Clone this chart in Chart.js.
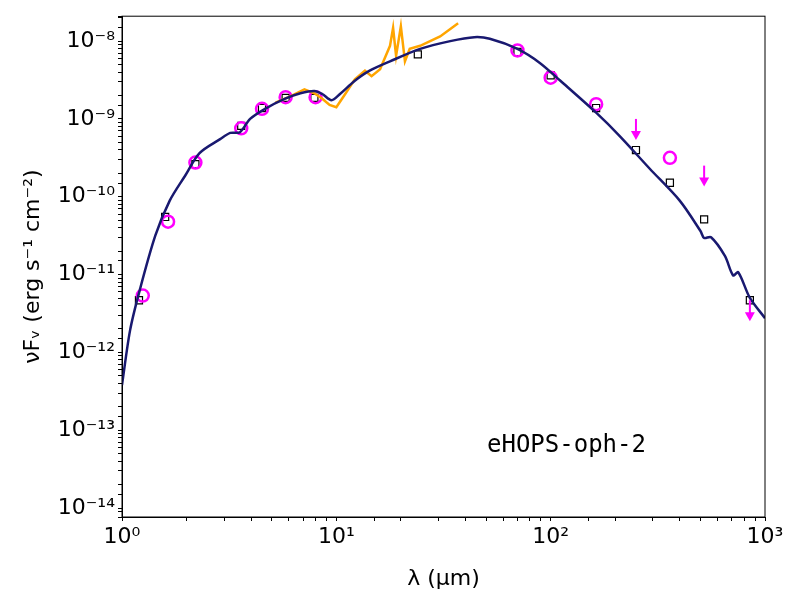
<!DOCTYPE html>
<html><head><meta charset="utf-8">
<script src="https://cdn.jsdelivr.net/npm/chart.js@4/dist/chart.umd.min.js"></script>
<style>body{margin:0;background:#fff}</style>
</head><body><canvas id="sed" width="800" height="600"></canvas>
<script>
// photometry (lambda um, log10 nuFnu)
const sqLam = [1.2,1.59,2.2,3.6,4.5,5.8,7.9,24,70,100,163,250,360,520,850];
const sqLog = [-11.33,-10.26,-9.58,-9.09,-8.86,-8.73,-8.73,-8.17,-8.14,-8.44,-8.86,-9.40,-9.82,-10.29,-11.33];
const ciLam = [1.25,1.64,2.2,3.6,4.5,5.8,8,70,100,163,360];
const ciLog = [-11.27,-10.32,-9.56,-9.12,-8.87,-8.72,-8.72,-8.12,-8.47,-8.81,-9.5];
const ulLam = [250,520,850];
const ulLog = [-9.0,-9.6,-11.33];
// model SED
const modLam = [1,1.09,1.21,1.43,1.67,1.97,2.3,2.87,3.2,3.55,3.96,4.65,5.77,6.8,7.9,8.6,9.5,10.4,12.2,14.3,17.8,24.6,34,44,52,70,89,111,163,210,290,400,500,520,560,650,710,750,850,1000];
const modLog = [-12.42,-11.72,-11.2,-10.5,-10.05,-9.73,-9.44,-9.26,-9.18,-9.17,-9.0,-8.87,-8.74,-8.67,-8.64,-8.68,-8.76,-8.68,-8.51,-8.38,-8.26,-8.1,-8.0,-7.95,-7.97,-8.1,-8.28,-8.51,-8.92,-9.22,-9.64,-10.05,-10.44,-10.53,-10.52,-10.76,-11.01,-10.97,-11.3,-11.56];
// IRS spectrum
const irsLam = [5.2,6.1,7.1,7.9,8.6,9.3,10,11,12.2,13.6,14.6,16,17.8,18.4,19,20,20.9,22,24.6,30.5,37];
const irsLog = [-8.79,-8.71,-8.62,-8.67,-8.74,-8.82,-8.85,-8.68,-8.49,-8.38,-8.45,-8.36,-8.06,-7.83,-8.19,-7.81,-8.26,-8.1,-8.06,-7.94,-7.77];

const pts = (l, v) => l.map((x, i) => ({x: x, y: Math.pow(10, v[i])}));
const sup = {'-':'⁻','0':'⁰','1':'¹','2':'²','3':'³','4':'⁴','5':'⁵','6':'⁶','7':'⁷','8':'⁸','9':'⁹'};
function decLabel(v) {
  const e = Math.log10(v);
  if (Math.abs(e - Math.round(e)) > 1e-6) return '';
  return '10' + String(Math.round(e)).split('').map(c => sup[c]).join('');
}

const extras = {
  id: 'extras',
  afterDatasetsDraw(chart) {
    const {ctx, chartArea: a, scales} = chart;
    ctx.save();
    ctx.strokeStyle = '#ff00ff'; ctx.fillStyle = '#ff00ff'; ctx.lineWidth = 2;
    ulLam.forEach((l, i) => {
      const x = scales.x.getPixelForValue(l), y = scales.y.getPixelForValue(Math.pow(10, ulLog[i]));
      ctx.beginPath(); ctx.moveTo(x, y); ctx.lineTo(x, y + 14); ctx.stroke();
      ctx.beginPath(); ctx.moveTo(x - 5, y + 12); ctx.lineTo(x + 5, y + 12); ctx.lineTo(x, y + 21); ctx.closePath(); ctx.fill();
    });
    ctx.strokeStyle = '#000'; ctx.lineWidth = 1;
    ctx.strokeRect(a.left, a.top, a.right - a.left, a.bottom - a.top);
    ctx.fillStyle = '#000'; ctx.font = '24px "DejaVu Sans Mono"';
    ctx.fillText('eHOPS-oph-2', 487, 452);
    ctx.restore();
  }
};

new Chart(document.getElementById('sed'), {
  type: 'scatter',
  data: {datasets: [
    {type: 'line', data: pts(modLam, modLog), borderColor: '#191970', borderWidth: 2.5, pointRadius: 0, tension: 0.3},
    {type: 'line', data: pts(irsLam, irsLog), borderColor: '#ffa500', borderWidth: 2.5, pointRadius: 0},
    {data: pts(ciLam, ciLog), pointStyle: 'circle', pointRadius: 6, borderColor: '#ff00ff', borderWidth: 2.5, backgroundColor: 'rgba(0,0,0,0)'},
    {data: pts(sqLam, sqLog), pointStyle: 'rect', pointRadius: 5, borderColor: '#000', borderWidth: 1.2, backgroundColor: 'rgba(0,0,0,0)'}
  ]},
  options: {
    responsive: false, animation: false, devicePixelRatio: 1,
    layout: {padding: {top: 15, right: 35, left: 0, bottom: 0}},
    plugins: {legend: {display: false}, tooltip: {enabled: false}},
    scales: {
      x: {type: 'logarithmic', min: 1, max: 1000,
        afterFit: s => { s.height = 83; },
        grid: {drawOnChartArea: false, tickLength: 4, color: '#000'},
        border: {color: '#000'},
        ticks: {color: '#000', font: {size: 22, family: 'DejaVu Sans'}, autoSkip: false, maxRotation: 0, callback: decLabel},
        title: {display: true, text: 'λ (μm)', color: '#000', padding: {top: 0, bottom: 8}, font: {size: 22, family: 'DejaVu Sans'}}},
      y: {type: 'logarithmic', min: Math.pow(10, -14.115), max: Math.pow(10, -7.68),
        afterFit: s => { s.width = 122; },
        grid: {drawOnChartArea: false, tickLength: 4, color: '#000'},
        border: {color: '#000'},
        ticks: {color: '#000', font: {size: 22, family: 'DejaVu Sans'}, autoSkip: false, callback: decLabel},
        title: {display: true, text: 'νFᵥ (erg s⁻¹ cm⁻²)', color: '#000', padding: {top: 20, bottom: 0}, font: {size: 22, family: 'DejaVu Sans'}}}
    }
  },
  plugins: [extras]
});
</script>
</body></html>
